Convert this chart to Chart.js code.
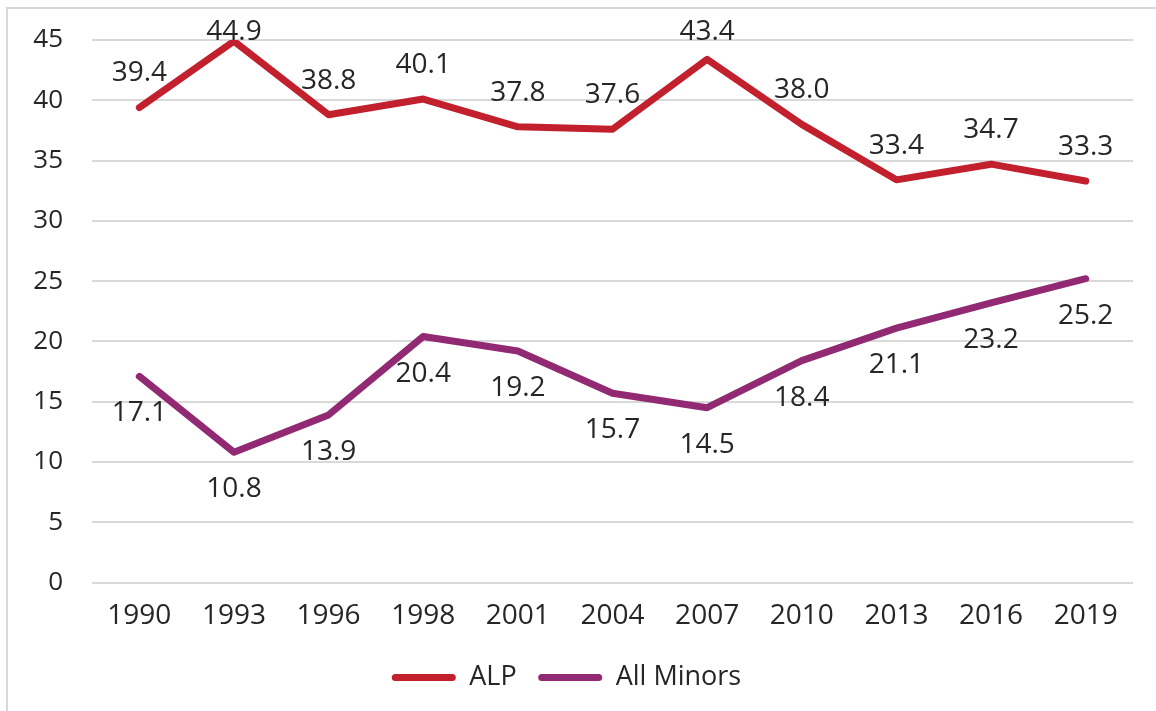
<!DOCTYPE html>
<html>
<head>
<meta charset="utf-8">
<script src="https://cdn.jsdelivr.net/npm/chart.js@4"></script>
<style>
  body { margin: 0; background: #fff; }
  #frame { position: absolute; left: 6px; top: 7px; width: 1200px; height: 800px; border: 2px solid #d9d9d9; }
  #wrap { position: absolute; left: 0; top: 0; width: 1156px; height: 711px; }
</style>
</head>
<body>
<div id="frame"></div>
<div id="wrap"><canvas id="voteChart"></canvas></div>
<script>
// Chart data
var years = ['1990', '1993', '1996', '1998', '2001', '2004', '2007', '2010', '2013', '2016', '2019'];
var alp = [39.4, 44.9, 38.8, 40.1, 37.8, 37.6, 43.4, 38.0, 33.4, 34.7, 33.3];
var minors = [17.1, 10.8, 13.9, 20.4, 19.2, 15.7, 14.5, 18.4, 21.1, 23.2, 25.2];
var yTicks = [0, 5, 10, 15, 20, 25, 30, 35, 40, 45];

var textColor = '#262626';
var fontFamily = '"Open Sans", sans-serif';

// Value labels: ALP above the line, minors below
var valueLabels = {
    id: 'valueLabels',
    afterDatasetsDraw: function (chart) {
        var ctx = chart.ctx;
        ctx.save();
        ctx.font = '28px ' + fontFamily;
        ctx.fillStyle = textColor;
        ctx.textAlign = 'center';
        ctx.textBaseline = 'middle';
        chart.data.datasets.forEach(function (ds, i) {
            var meta = chart.getDatasetMeta(i);
            meta.data.forEach(function (pt, j) {
                var y = ds.labelPos === 'above' ? Math.max(pt.y - 34, 32) : pt.y + 37;
                ctx.fillText(ds.data[j].toFixed(1), pt.x, y);
            });
        });
        ctx.restore();
    }
};

var ctx = document.getElementById('voteChart').getContext('2d');
var voteChart = new Chart(ctx, {
    type: 'line',
    data: {
        labels: years,
        datasets: [
            {
                label: 'ALP',
                data: alp,
                labelPos: 'above',
                borderColor: '#c3202e',
                backgroundColor: '#c3202e',
                borderWidth: 7,
                pointRadius: 0,
                fill: false
            },
            {
                label: 'All Minors',
                data: minors,
                labelPos: 'below',
                borderColor: '#922a73',
                backgroundColor: '#922a73',
                borderWidth: 7,
                pointRadius: 0,
                fill: false
            }
        ]
    },
    options: {
        responsive: true,
        maintainAspectRatio: false,
        animation: false,
        layout: { padding: { top: 40, right: 23, left: 0, bottom: 10 } },
        elements: { line: { borderCapStyle: 'round', borderJoinStyle: 'round', tension: 0 } },
        scales: {
            x: {
                offset: true,
                grid: { display: false, drawTicks: false },
                border: { display: false },
                ticks: { color: textColor, font: { family: fontFamily, size: 28 }, padding: 17, maxRotation: 0 },
                afterFit: function (scale) { scale.height = 60; }
            },
            y: {
                min: 0,
                max: 45,
                afterBuildTicks: function (scale) {
                    scale.ticks = yTicks.map(function (v) { return { value: v }; });
                },
                grid: { color: '#d9d9d9', lineWidth: 2, drawTicks: false },
                border: { display: false },
                ticks: { color: textColor, font: { family: fontFamily, size: 26 }, padding: 29 },
                afterFit: function (scale) {
                    scale.width = 92;
                    scale.paddingTop = 0;
                    scale.paddingBottom = 0;
                }
            }
        },
        plugins: {
            tooltip: { enabled: false },
            legend: {
                position: 'bottom',
                labels: {
                    color: textColor,
                    font: { family: fontFamily, size: 27 },
                    boxWidth: 64,
                    boxHeight: 7,
                    padding: 21.5,
                    generateLabels: function (chart) {
                        return chart.data.datasets.map(function (ds, i) {
                            return {
                                text: ds.label,
                                fillStyle: ds.borderColor,
                                strokeStyle: ds.borderColor,
                                lineWidth: 0,
                                borderRadius: 3.5,
                                fontColor: textColor,
                                datasetIndex: i
                            };
                        });
                    },
                    useBorderRadius: true,
                    borderRadius: 3.5
                }
            }
        }
    },
    plugins: [valueLabels]
});
</script>
</body>
</html>
